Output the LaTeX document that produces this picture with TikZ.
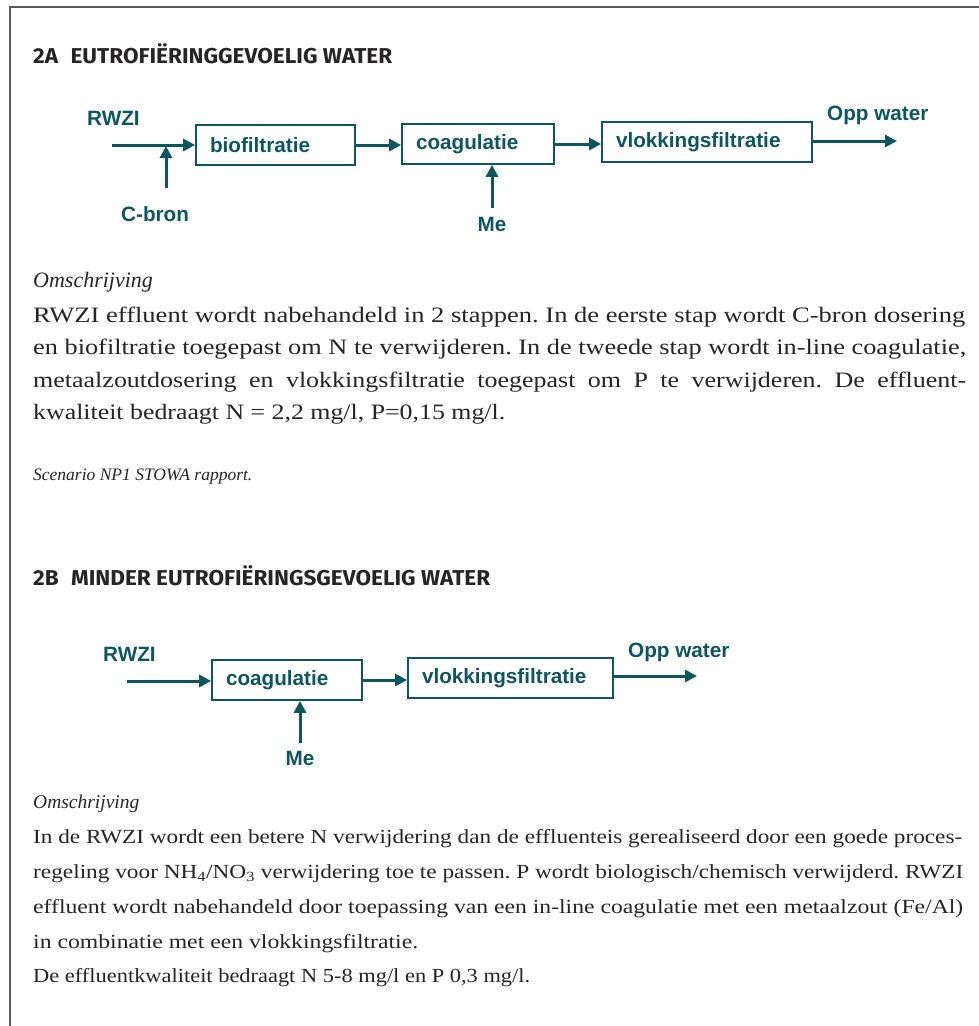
\documentclass[tikz,border=0pt]{standalone}
\usepackage{fontspec}
\setmainfont{Liberation Serif}
\newfontfamily\labfont{Liberation Sans}
\newfontfamily\headfont{Fira Sans}
\usetikzlibrary{arrows.meta}
\definecolor{tealc}{HTML}{0D5660}
\definecolor{ink}{HTML}{262424}
\definecolor{framec}{HTML}{5A5A5A}
\newcommand\fitline[2]{\resizebox{#1}{\height}{#2}}
\tikzset{
  proc/.style={draw=tealc, line width=1.7pt, minimum height=40pt, inner xsep=14pt, inner ysep=0pt,
    text=tealc, font=\labfont\bfseries\fontsize{20.7}{24}\selectfont, align=left, text width=#1},
  lbl/.style={text=tealc, inner sep=0pt, font=\labfont\bfseries\fontsize{20.7}{24}\selectfont},
  flow/.style={draw=tealc, line width=3pt, -{Triangle[length=12pt,width=12pt]}},
  hd/.style={text=ink, inner sep=0pt, anchor=base west, font=\headfont\bfseries\fontsize{21.5}{24}\selectfont},
  bodyA/.style={text=ink, inner sep=0pt, anchor=base west, font=\frenchspacing\fontsize{22}{26}\selectfont},
  bodyB/.style={text=ink, inner sep=0pt, anchor=base west, font=\frenchspacing\fontsize{20}{24}\selectfont},
  framel/.style={draw=framec, line width=1.8pt}
}
\begin{document}
\begin{tikzpicture}[x=1pt,y=-1pt]
\useasboundingbox (0,0) rectangle (979,1026);
% frame
\coordinate (fl) at (10,1026);
\coordinate (fc) at (10,7);
\coordinate (fr) at (979,7);
\draw[framel] (fl) -- (fc) -- (fr);

% ---------- 2A ----------
\node[hd] (hA) at (33,63) {\resizebox{359pt}{\height}{2A\hspace{0.55em}EUTROFIËRINGGEVOELIG WATER}};

\node[lbl, anchor=base west] (rwziA) at (87,125) {RWZI};
\node[proc=131pt] (bio) at (275.5,145) {biofiltratie};
\node[proc=124pt] (coagA) at (478,144) {coagulatie};
\node[proc=182pt] (vlokA) at (707,142) {vlokkingsfiltratie};
\node[lbl, anchor=base west] (oppA) at (827,120) {Opp water};
\node[lbl, anchor=base west] (cbron) at (121,221) {C-bron};
\node[lbl, anchor=base] (meA) at (492,231) {Me};

\coordinate (inA) at (112,145);
\coordinate (cbA) at (166,188);
\coordinate (jA) at (166,146);
\coordinate (meAt) at (492,208);
\coordinate (outA) at (897,141);

\draw[flow] (inA) -- (bio.west);
\draw[flow] (cbA) -- (jA);
\draw[flow] (bio.east) -- (bio.east -| coagA.west);
\draw[flow] (coagA.east) -- (coagA.east -| vlokA.west);
\draw[flow] (meAt) -- (meAt |- coagA.south);
\draw[flow] (vlokA.east |- outA) -- (outA);

\node[bodyA, font=\itshape\fontsize{22}{26}\selectfont] (omA) at (33,287) {Omschrijving};
\node[bodyA] (a1) at (33,322) {\fitline{932pt}{RWZI effluent wordt nabehandeld in 2 stappen. In de eerste stap wordt C-bron dosering}};
\node[bodyA] (a2) at (33,354.5) {\fitline{933pt}{en biofiltratie toegepast om N te verwijderen. In de tweede stap wordt in-line coagulatie,}};
\node[bodyA] (a3) at (33,387) {\fitline{933pt}{\makebox[790pt][s]{metaalzoutdosering en vlokkingsfiltratie toegepast om P te verwijderen. De effluent-}}};
\node[bodyA] (a4) at (33,419.5) {\fitline{472pt}{kwaliteit bedraagt N = 2,2 mg/l, P=0,15 mg/l.}};
\node[bodyA, font=\itshape\fontsize{17.5}{20}\selectfont] (scen) at (33,480) {Scenario NP1 STOWA rapport.};

% ---------- 2B ----------
\node[hd] (hB) at (33,585) {\resizebox{457pt}{\height}{2B\hspace{0.55em}MINDER EUTROFIËRINGSGEVOELIG WATER}};

\node[lbl, anchor=base west] (rwziB) at (103,661) {RWZI};
\node[proc=122pt] (coagB) at (287,680) {coagulatie};
\node[proc=177pt] (vlokB) at (510.5,678) {vlokkingsfiltratie};
\node[lbl, anchor=base west] (oppB) at (628,657) {Opp water};
\node[lbl, anchor=base] (meB) at (300,765) {Me};

\coordinate (inB) at (127,681);
\coordinate (meBt) at (300,743);
\coordinate (outB) at (697,676);

\draw[flow] (inB) -- (inB -| coagB.west);
\draw[flow] (coagB.east) -- (coagB.east -| vlokB.west);
\draw[flow] (meBt) -- (meBt |- coagB.south);
\draw[flow] (vlokB.east |- outB) -- (outB);

\node[bodyB, font=\itshape\fontsize{19.5}{24}\selectfont] (omB) at (33,808) {Omschrijving};
\node[bodyB] (b1) at (33,843) {\fitline{929pt}{In de RWZI wordt een betere N verwijdering dan de effluenteis gerealiseerd door een goede proces-}};
\node[bodyB] (b2) at (33,878) {\fitline{930pt}{regeling voor NH\textsubscript{4}/NO\textsubscript{3} verwijdering toe te passen. P wordt biologisch/chemisch verwijderd. RWZI}};
\node[bodyB] (b3) at (33,913) {\fitline{930pt}{effluent wordt nabehandeld door toepassing van een in-line coagulatie met een metaalzout (Fe/Al)}};
\node[bodyB] (b4) at (33,948) {\fitline{385pt}{in combinatie met een vlokkingsfiltratie.}};
\node[bodyB] (b5) at (33,982) {\fitline{497pt}{De effluentkwaliteit bedraagt N 5-8 mg/l en P 0,3 mg/l.}};
\end{tikzpicture}
\end{document}
